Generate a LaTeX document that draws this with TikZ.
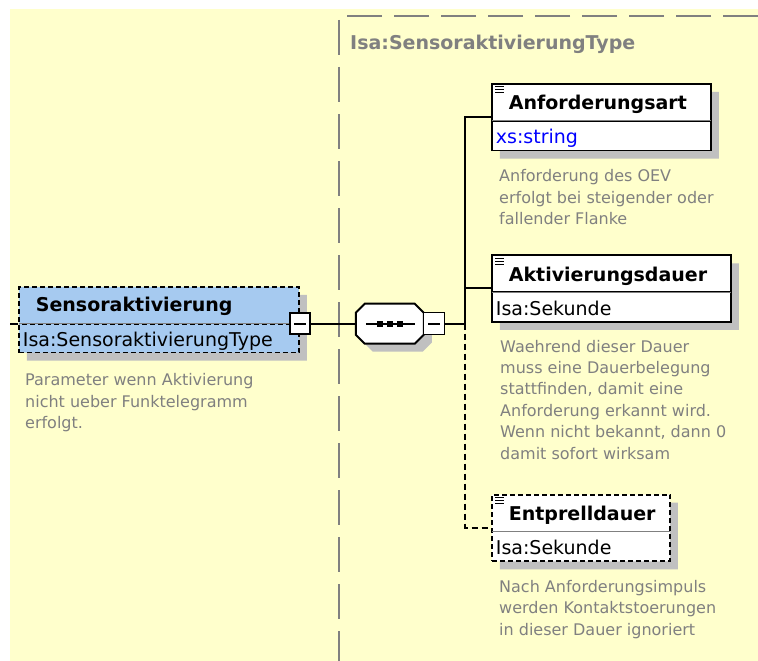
\documentclass[tikz,border=0pt]{standalone}
\usepackage{fontspec}
\setmainfont{DejaVu Sans}
\usetikzlibrary{positioning, shadows, shapes.multipart}
\definecolor{bgyellow}{HTML}{FFFFCC}
\definecolor{framegray}{HTML}{808080}
\definecolor{sensblue}{HTML}{A6CAF0}
\definecolor{shadowgray}{HTML}{C0C0C0}
\definecolor{docgray}{HTML}{808080}
\newcommand{\namefont}{\fontsize{19}{22}\selectfont\bfseries}
\newcommand{\typefont}{\fontsize{19}{22}\selectfont}
\newcommand{\docfont}{\fontsize{16}{21.4}\selectfont}
\newcommand{\upstrut}{\rule[-10pt]{0pt}{35pt}}
\newcommand{\lowstrut}{\rule[-6pt]{0pt}{28pt}}
\tikzstyle{elem} = [rectangle split, rectangle split parts=2,
rectangle split part align=left,
draw=black, line width=1.8pt,
fill=white,
inner xsep=4pt, inner ysep=0pt,
drop shadow={shadow xshift=8pt, shadow yshift=-8pt, fill=shadowgray, opacity=1}]
\tikzstyle{optbox} = [dash pattern=on 5pt off 3pt]
\tikzstyle{minus} = [rectangle, draw=black, line width=1.5pt, fill=white,
minimum width=20pt, minimum height=21pt, inner sep=0pt]
\tikzstyle{doc} = [align=left, inner sep=0pt, text=docgray, font=\docfont]
\tikzstyle{conn} = [line width=2pt]
\tikzstyle{optconn} = [line width=2pt, dash pattern=on 6pt off 4pt]
\tikzstyle{divider} = [draw=framegray, line width=1.2pt, shorten <=0.9pt, shorten >=0.9pt]

\begin{document}
\begin{tikzpicture}[x=1pt, y=1pt]

\useasboundingbox (0,0) rectangle (758,-661);
\fill[bgyellow] (10,-9) rectangle (758,-661);
\draw[framegray, line width=2pt, dash pattern=on 35pt off 12pt] (758,-16) -- (339,-16) -- (339,-661);
\node (title) [anchor=base west, inner sep=0pt, text=framegray, font=\namefont] at (350,-50) {Isa:SensoraktivierungType};

% the element and its type
\node (sens) [elem, optbox, fill=sensblue, minimum width=280pt, anchor=north west] at (18,-286)
{\namefont\hspace*{13pt}Sensoraktivierung\rule[-11pt]{0pt}{35pt}
\nodepart{two}\typefont Isa:SensoraktivierungType\rule[-5pt]{0pt}{27pt}};
\draw[divider] (sens.text split west) -- (sens.text split east);
\node (sensminus) [minus] at (sens.text split east) {\rule[-1.1pt]{12pt}{2.2pt}};
\node (sensdoc) [doc, below right=20pt and 7pt of sens.south west] {Parameter wenn Aktivierung\\nicht ueber Funktelegramm\\erfolgt.};
\coordinate (in) at ([xshift=-8pt]sens.text split west);
\draw[conn] (in) -- (sens.text split west);

% sequence
\node (seq) [minimum width=68pt, minimum height=40pt, inner sep=0pt, right=45pt of sensminus] {};
\fill[shadowgray, shift={(seq.center)}] (-17,12) -- (33,12) -- (42,3) -- (42,-19) -- (33,-28) -- (-17,-28) -- (-26,-19) -- (-26,3) -- cycle;
\draw[conn, fill=white, shift={(seq.center)}] (-25,20) -- (25,20) -- (34,11) -- (34,-11) -- (25,-20) -- (-25,-20) -- (-34,-11) -- (-34,11) -- cycle;
\draw[conn, shift={(seq.center)}] (-24,0) -- (25,0);
\foreach \d in {-10,0,10}
  \fill[shift={(seq.center)}] ({\d-2.8},-2.8) rectangle ({\d+2.8},2.8);
\node (seqminus) [minus, minimum width=21pt, minimum height=22pt, right=-1pt of seq] {\rule[-1.1pt]{12pt}{2.2pt}};
\coordinate[right=20pt of seqminus] (bus);
\draw[conn] (sensminus) -- (seq);
\draw[conn] (seqminus) -- (bus);

% children
\node (anf) [elem, minimum width=219pt, anchor=north west] at (491,-83)
{\namefont\hspace*{13pt}Anforderungsart\upstrut
\nodepart{two}\typefont\color{blue}xs:string\lowstrut};
\node (anfdoc) [doc, below right=18pt and 8pt of anf.south west] {Anforderung des OEV\\erfolgt bei steigender oder\\fallender Flanke};

\node (akt) [elem, minimum width=239pt, below=103pt of anf.south west, anchor=north west]
{\namefont\hspace*{13pt}Aktivierungsdauer\upstrut
\nodepart{two}\typefont Isa:Sekunde\lowstrut};
\node (aktdoc) [doc, below right=17pt and 9pt of akt.south west] {Waehrend dieser Dauer\\muss eine Dauerbelegung\\stattfinden, damit eine\\Anforderung erkannt wird.\\Wenn nicht bekannt, dann 0\\damit sofort wirksam};

\node (ent) [elem, optbox, minimum width=178pt, below=171pt of akt.south west, anchor=north west]
{\namefont\hspace*{13pt}Entprelldauer\upstrut
\nodepart{two}\typefont Isa:Sekunde\lowstrut};
\node (entdoc) [doc, below right=18pt and 8pt of ent.south west] {Nach Anforderungsimpuls\\werden Kontaktstoerungen\\in dieser Dauer ignoriert};

\foreach \b in {anf,akt,ent} {
  \draw[divider] (\b.text split west) -- (\b.text split east);
  \foreach \k in {0,1,2}
    \draw[line width=1pt] ([shift={(4,{-4-3*\k})}]\b.north west) -- ++(9,0);
}

\draw[conn] (bus) |- ([yshift=4pt]anf.text split west);
\draw[conn] (bus) |- ([yshift=4pt]akt.text split west);
\draw[optconn] (bus) |- ([yshift=4pt]ent.text split west);

\end{tikzpicture}
\end{document}
